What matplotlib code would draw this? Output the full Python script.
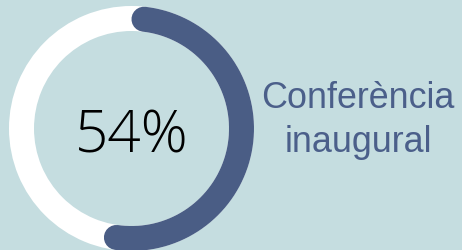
import numpy as np
import matplotlib.pyplot as plt
from matplotlib.patches import Wedge

value = 54  # percent
label_lines = ['Conferència', 'inaugural']

bg = '#c5dde0'
arc_col = '#4a5d85'
text_col = '#4b5f8a'

W, H, dpi = 462, 251, 100
fig = plt.figure(figsize=(W / dpi, H / dpi), dpi=dpi, facecolor=bg)
ax = fig.add_axes([0, 0, 1, 1])
ax.set_xlim(0, W)
ax.set_ylim(H, 0)
ax.set_aspect('equal')
ax.axis('off')
ax.set_facecolor(bg)

cx, cy = 131.5, 129.5
r_out, ring_w = 122.5, 25
r_mid = r_out - ring_w / 2

# full white track
ax.add_patch(Wedge((cx, cy), r_out, 0, 360, width=ring_w, facecolor='white', edgecolor='none'))

# value arc, clockwise from top, round caps kept inside the span
pad = np.degrees((ring_w / 2) / r_mid)
sweep = value / 100 * 360
t = np.radians(np.linspace(pad, sweep - pad, 300))
ax.plot(cx + r_mid * np.sin(t), cy - r_mid * np.cos(t), color=arc_col,
        lw=ring_w * 72 / dpi, solid_capstyle='round')

ax.text(cx, 153, f'{value}%', ha='center', va='baseline', fontsize=42,
        family='Open Sans', fontweight='light', color='black')

ax.text(357.5, 108, label_lines[0], ha='center', va='baseline', fontsize=25.8,
        family='Liberation Sans', color=text_col)
ax.text(358, 152, label_lines[1], ha='center', va='baseline', fontsize=25.8,
        family='Liberation Sans', color=text_col)

fig.savefig('out.png', dpi=dpi, facecolor=bg)
